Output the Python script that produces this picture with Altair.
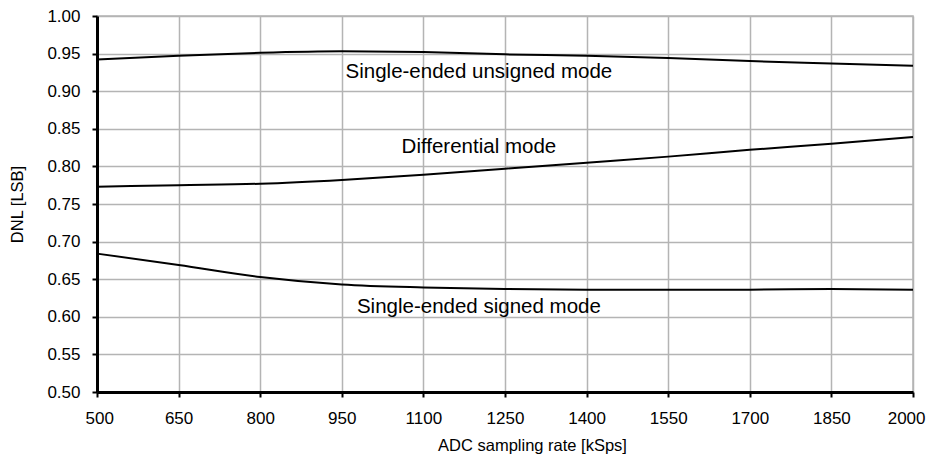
import altair as alt
import pandas as pd

rate = [500, 650, 800, 950, 1100, 1250, 1400, 1550, 1700, 1850, 2000]
unsigned_mode = [0.942, 0.947, 0.951, 0.953, 0.952, 0.949, 0.947, 0.944, 0.940, 0.937, 0.934]
differential_mode = [0.773, 0.775, 0.777, 0.782, 0.789, 0.797, 0.805, 0.813, 0.822, 0.830, 0.839]
signed_mode = [0.684, 0.669, 0.653, 0.643, 0.639, 0.637, 0.636, 0.636, 0.636, 0.637, 0.636]

label_text = ["Single-ended unsigned mode", "Differential mode", "Single-ended signed mode"]
label_x = [1202, 1202, 1202]
label_y = [0.926, 0.826, 0.613]

x_ticks = [500, 650, 800, 950, 1100, 1250, 1400, 1550, 1700, 1850, 2000]
y_ticks = [0.50, 0.55, 0.60, 0.65, 0.70, 0.75, 0.80, 0.85, 0.90, 0.95, 1.00]

rows = []
for name, vals in [("unsigned", unsigned_mode), ("differential", differential_mode), ("signed", signed_mode)]:
    for r, v in zip(rate, vals):
        rows.append({"rate": r, "dnl": v, "series": name})
df = pd.DataFrame(rows)
labels = pd.DataFrame({"text": label_text, "x": label_x, "y": label_y})

FONT = "Liberation Sans"

xscale = alt.Scale(domain=[500, 2000], nice=False, zero=False)
yscale = alt.Scale(domain=[0.5, 1.0], nice=False, zero=False)

xaxis = alt.Axis(values=x_ticks, title="ADC sampling rate [kSps]", titleX=435, titleY=53,
                 titleBaseline="middle", titleAlign="center",
                 labelPadding=13, format="d", labelFlush=True, labelFlushOffset=12,
                 labelOverlap=False)
yaxis = alt.Axis(values=y_ticks, title="DNL [LSB]", format=".2f",
                 titleX=-80, titleY=188,
                 titleBaseline="middle", titleAlign="center", titleAngle=-90,
                 labelPadding=12, labelFlush=False, labelOverlap=False)

lines = alt.Chart(df).mark_line(color="black", strokeWidth=2, interpolate="monotone").encode(
    x=alt.X("rate:Q", scale=xscale, axis=xaxis),
    y=alt.Y("dnl:Q", scale=yscale, axis=yaxis),
    detail="series:N",
)

text = alt.Chart(labels).mark_text(font=FONT, fontSize=20.5, color="black", align="center",
                                   baseline="middle").encode(
    x=alt.X("x:Q", scale=xscale, axis=xaxis),
    y=alt.Y("y:Q", scale=yscale, axis=yaxis),
    text="text:N",
)

chart = alt.layer(lines, text).properties(
    width=816, height=376,
    autosize=alt.AutoSizeParams(type="none"),
    padding={"left": 89, "top": 8, "right": 13, "bottom": 63},
).configure_view(
    stroke="#b4b4b4", strokeWidth=1.5
).configure_axis(
    labelFont=FONT, titleFont=FONT, labelFontSize=17, titleFontSize=16.5,
    labelColor="black", titleColor="black", titleFontWeight="normal",
    domainColor="black", domainWidth=3, tickColor="black", tickWidth=2, tickSize=5,
    gridColor="#b4b4b4", gridWidth=1.5, gridOpacity=1,
).configure_axisY(labelAlign="right", labelBaseline="middle")

chart.save("out.html", embed_options={"renderer": "svg", "actions": False})
